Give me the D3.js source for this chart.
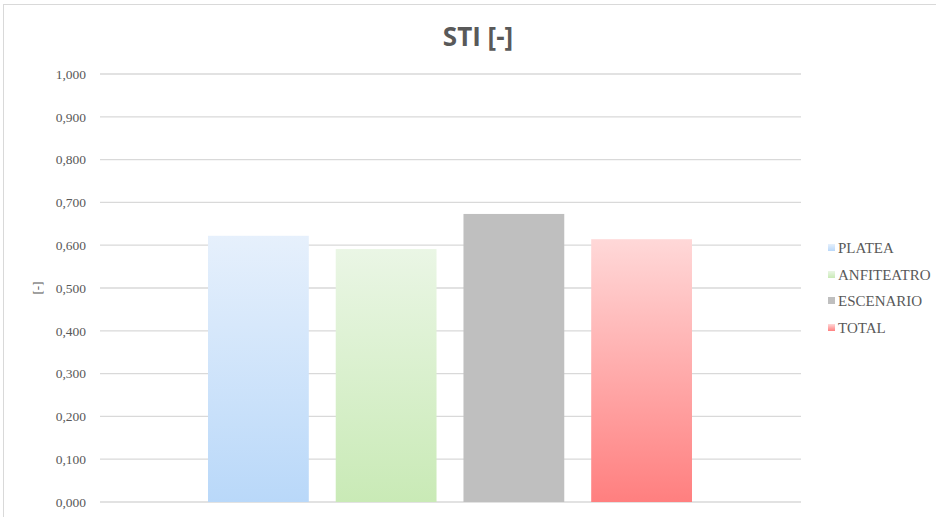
<!DOCTYPE html>
<html>
<head>
<meta charset="utf-8">
<script src="https://cdn.jsdelivr.net/npm/d3@7"></script>
<style>
  html, body { margin: 0; padding: 0; background: #fff; }
  svg { display: block; }
</style>
</head>
<body>
<svg id="chart" width="936" height="517"></svg>
<script>
// STI values per zone
const series = ["PLATEA", "ANFITEATRO", "ESCENARIO", "TOTAL"];
const values = [0.622, 0.591, 0.673, 0.614];
const tickValues = [0, 0.1, 0.2, 0.3, 0.4, 0.5, 0.6, 0.7, 0.8, 0.9, 1.0];
const titleText = "STI [-]";
const yAxisTitle = "[-]";
// gradient stops (top, bottom) for each series
const gradTop = ["#e6f0fc", "#eaf6e5", "#bfbfbf", "#ffd8d8"];
const gradBottom = ["#b9d8f9", "#c9eab6", "#bfbfbf", "#ff7f7f"];

const svg = d3.select("#chart");
const W = 936, H = 517;
const plot = { left: 100, right: 801, top: 74, bottom: 502 };

// outer chart border
svg.append("rect")
  .attr("x", 3.5).attr("y", 4.5)
  .attr("width", W + 10).attr("height", H + 10)
  .attr("fill", "#fff").attr("stroke", "#d9d9d9").attr("stroke-width", 1);

const defs = svg.append("defs");
series.forEach((s, i) => {
  const g = defs.append("linearGradient")
    .attr("id", "grad" + i)
    .attr("x1", 0).attr("y1", 0).attr("x2", 0).attr("y2", 1);
  g.append("stop").attr("offset", "0%").attr("stop-color", gradTop[i]);
  g.append("stop").attr("offset", "100%").attr("stop-color", gradBottom[i]);
});

const y = d3.scaleLinear().domain([0, 1]).range([plot.bottom, plot.top]);

// gridlines
svg.append("g")
  .selectAll("line")
  .data(tickValues)
  .join("line")
  .attr("x1", plot.left).attr("x2", plot.right)
  .attr("y1", d => y(d)).attr("y2", d => y(d))
  .attr("stroke", "#d9d9d9").attr("stroke-width", 1.3);

// y axis tick labels
const fmt = d => d3.format(".3f")(d).replace(".", ",");
const yAxis = d3.axisLeft(y).tickValues(tickValues).tickFormat(fmt).tickSize(0).tickPadding(0);
const gy = svg.append("g")
  .attr("transform", `translate(${plot.left - 14},0)`)
  .call(yAxis)
  .attr("font-family", "'Liberation Serif', 'Times New Roman', serif")
  .attr("font-size", 13.5);
gy.select(".domain").remove();
gy.selectAll("text").attr("fill", "#595959");

// bars: one category, four series side by side
const x = d3.scaleBand()
  .domain(series)
  .range([208, 692])
  .paddingInner(27 / 128)
  .paddingOuter(0);
svg.append("g")
  .selectAll("rect")
  .data(series)
  .join("rect")
  .attr("x", d => x(d))
  .attr("width", x.bandwidth())
  .attr("y", (d, i) => y(values[i]))
  .attr("height", (d, i) => y(0) - y(values[i]))
  .attr("fill", (d, i) => `url(#grad${i})`);

// title
svg.append("text")
  .attr("x", 478).attr("y", 46)
  .attr("text-anchor", "middle")
  .attr("fill", "#595959")
  .style("font-family", "'Liberation Sans Narrow', 'Open Sans', sans-serif")
  .style("font-weight", "bold")
  .style("font-size", "26px")
  .text(titleText);

// y axis title
svg.append("text")
  .attr("transform", "translate(42,288) rotate(-90)")
  .attr("text-anchor", "middle")
  .attr("fill", "#595959")
  .style("font-family", "'Liberation Serif', serif")
  .style("font-size", "13px")
  .text(yAxisTitle);

// legend
const legendY = [248, 275, 301, 328];
const lg = svg.append("g");
series.forEach((s, i) => {
  lg.append("rect")
    .attr("x", 828).attr("y", legendY[i] - 4)
    .attr("width", 7).attr("height", 7)
    .attr("fill", `url(#grad${i})`);
  lg.append("text")
    .attr("x", 838).attr("y", legendY[i] + 5)
    .attr("fill", "#595959")
    .style("font-family", "'Liberation Serif', 'Times New Roman', serif")
    .style("font-size", "15px")
    .text(s);
});
</script>
</body>
</html>
